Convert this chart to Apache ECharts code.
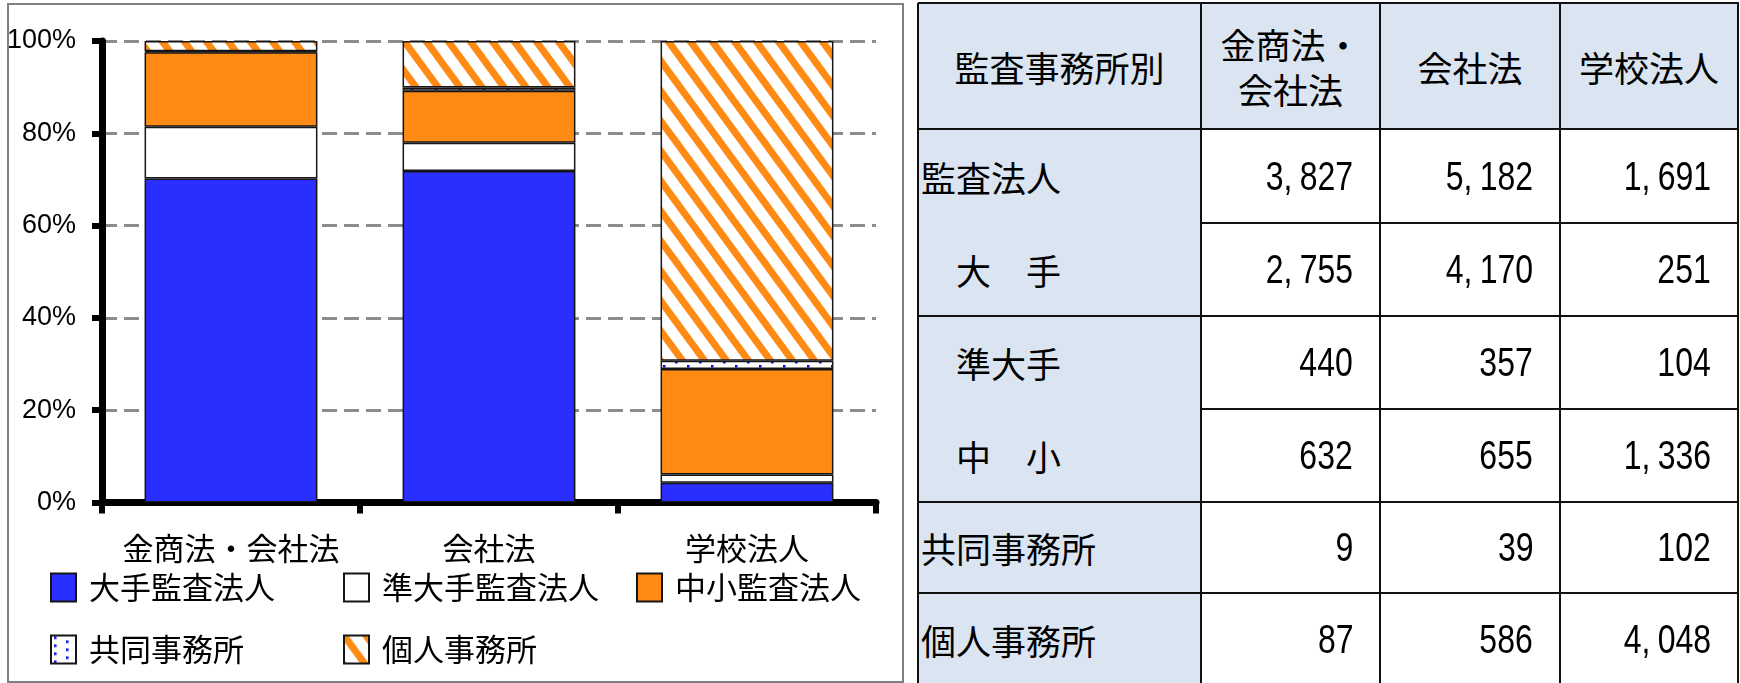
<!DOCTYPE html>
<html><head><meta charset="utf-8">
<script src="https://cdn.jsdelivr.net/npm/echarts@6/dist/echarts.min.js"></script>
<style>
html,body{margin:0;padding:0;background:#fff;}
#chart{position:absolute;left:0;top:0;width:1740px;height:683px;}
#table{position:absolute;left:0;top:0;width:1740px;height:683px;overflow:hidden;}
.cell{position:absolute;box-sizing:border-box;display:flex;align-items:center;font-family:'Noto Sans CJK JP',sans-serif;font-size:35px;color:#000;white-space:pre;}
.hdr{justify-content:center;text-align:center;line-height:45px;}
.lbl{padding-left:3px;}
.num{justify-content:flex-end;padding-right:27px;}
.num span.v{display:inline-block;font-family:'Liberation Sans',Arial,sans-serif;font-size:40px;transform:scaleX(0.8);transform-origin:100% 50%;}
.ln{position:absolute;background:#111;}
</style></head><body>
<div id="chart"></div><div id="table"></div>
<script>
// ---- data ----
const categories = ['金商法・会社法', '会社法', '学校法人'];
const headerLabels = ['監査事務所別', '金商法・\n会社法', '会社法', '学校法人'];
const rowLabels = ['監査法人', '　大　手', '　準大手', '　中　小', '共同事務所', '個人事務所'];
const auditCorporations = [3827, 5182, 1691];
const bigFirms = [2755, 4170, 251];
const midTierFirms = [440, 357, 104];
const smallFirms = [632, 655, 1336];
const jointOffices = [9, 39, 102];
const individualOffices = [87, 586, 4048];
const seriesNames = ['大手監査法人', '準大手監査法人', '中小監査法人', '共同事務所', '個人事務所'];
const yTicks = [0, 20, 40, 60, 80, 100];

// ---- styles ----
const FONT_CJK = "'Noto Sans CJK JP', sans-serif";
const FONT_NUM = "'Liberation Sans', Arial, sans-serif";
const BLUE = '#2a2eff', ORANGE = '#ff8a14';

function hatchPattern() {
  const W = 22, H = 30;
  const c = document.createElement('canvas'); c.width = W; c.height = H;
  const x = c.getContext('2d');
  x.fillStyle = '#fff'; x.fillRect(0, 0, W, H);
  x.strokeStyle = ORANGE; x.lineWidth = 7;
  for (let k = -2; k <= 2; k++) {
    x.beginPath(); x.moveTo(k * W - W, -H); x.lineTo(k * W + 2 * W, 2 * H); x.stroke();
  }
  return { image: c, repeat: 'repeat' };
}
function dotPattern() {
  const W = 24, H = 8;
  const c = document.createElement('canvas'); c.width = W; c.height = H;
  const x = c.getContext('2d');
  x.fillStyle = '#fff'; x.fillRect(0, 0, W, H);
  x.fillStyle = '#0000ff';
  x.fillRect(3, 1, 2.5, 2.5); x.fillRect(15, 5, 2.5, 2.5);
  return { image: c, repeat: 'repeat' };
}

const seriesValues = [bigFirms, midTierFirms, smallFirms, jointOffices, individualOffices];
const totals = categories.map((_, i) => seriesValues.reduce((s, arr) => s + arr[i], 0));
const fills = [BLUE, '#ffffff', ORANGE, dotPattern(), hatchPattern()];
const legendPos = [[50, 572], [343, 572], [636, 572], [50, 634], [343, 634]];

const chart = echarts.init(document.getElementById('chart'), null, { renderer: 'canvas' });
chart.setOption({
  animation: false,
  backgroundColor: '#fff',
  graphic: [{ type: 'rect', shape: { x: 8, y: 4, width: 895, height: 678 },
    style: { fill: 'none', stroke: '#7f7f7f', lineWidth: 2 }, z: 100 }],
  grid: { left: 102, top: 41, width: 774, height: 461.5, outerBoundsMode: 'none' },
  xAxis: {
    type: 'category', data: categories,
    axisLine: { lineStyle: { color: '#000', width: 7 } },
    axisTick: { show: true, interval: 0, length: 11, lineStyle: { color: '#000', width: 6 } },
    axisLabel: { interval: 0, fontFamily: FONT_CJK, fontSize: 31, color: '#000', margin: 30 }
  },
  yAxis: {
    type: 'value', min: 0, max: 100, interval: 20,
    axisLine: { show: true, lineStyle: { color: '#000', width: 7 } },
    axisTick: { show: true, length: 10, lineStyle: { color: '#000', width: 6 } },
    axisLabel: { formatter: '{value}%', fontFamily: FONT_NUM, fontSize: 27, color: '#000', margin: 26 },
    splitLine: { show: true, lineStyle: { color: '#8c8c8c', width: 3, type: [15, 7] } }
  },
  legend: seriesNames.map((n, i) => ({
    data: [n], left: legendPos[i][0], top: legendPos[i][1], padding: 0,
    itemWidth: 25, itemHeight: 28, icon: 'rect', selectedMode: false,
    textStyle: { fontFamily: FONT_CJK, fontSize: 31, color: '#000', padding: [0, 0, 0, 8] }
  })),
  series: seriesNames.map((n, si) => ({
    name: n, type: 'bar', stack: 'total', barCategoryGap: '33%',
    data: seriesValues[si].map((v, i) => v / totals[i] * 100),
    itemStyle: { color: fills[si], borderColor: '#151515', borderWidth: 1.5 },
    emphasis: { disabled: true }
  }))
});

// ---- table ----
const tableRows = [auditCorporations, bigFirms, midTierFirms, smallFirms, jointOffices, individualOffices];
const colX = [918, 1201, 1380, 1560, 1738];
const rowY = [3, 129, 223, 316, 409, 502, 593, 686];
const T = document.getElementById('table');
function cell(x0, y0, x1, y1, cls, html, bg) {
  const d = document.createElement('div');
  d.className = 'cell ' + cls;
  d.style.left = x0 + 'px'; d.style.top = y0 + 'px';
  d.style.width = (x1 - x0) + 'px'; d.style.height = (y1 - y0) + 'px';
  d.style.background = bg;
  d.innerHTML = html;
  T.appendChild(d);
}
function fmt(v) {
  return '<span class="v">' + v.toLocaleString('en-US').replace(',', '<span style="margin-right:9px">,</span>') + '</span>';
}
const LB = '#dbe5f1';
headerLabels.forEach((h, c) => cell(colX[c], rowY[0], colX[c + 1], rowY[1], 'hdr', h, LB));
rowLabels.forEach((r, ri) => {
  cell(colX[0], rowY[ri + 1], colX[1], rowY[ri + 2], 'lbl', r, LB);
  tableRows[ri].forEach((v, c) => cell(colX[c + 1], rowY[ri + 1], colX[c + 2], rowY[ri + 2], 'num', fmt(v), '#fff'));
});
function line(x, y, w, h) {
  const d = document.createElement('div'); d.className = 'ln';
  d.style.left = x + 'px'; d.style.top = y + 'px'; d.style.width = w + 'px'; d.style.height = h + 'px';
  T.appendChild(d);
}
colX.forEach(x => line(x - 1, rowY[0], 2, rowY[7] - rowY[0]));
const hStart = [918, 918, 1201, 918, 1201, 918, 918, 918];
rowY.forEach((y, i) => line(hStart[i], y - 1, colX[4] - hStart[i] + 1, 2));
</script>
</body></html>
